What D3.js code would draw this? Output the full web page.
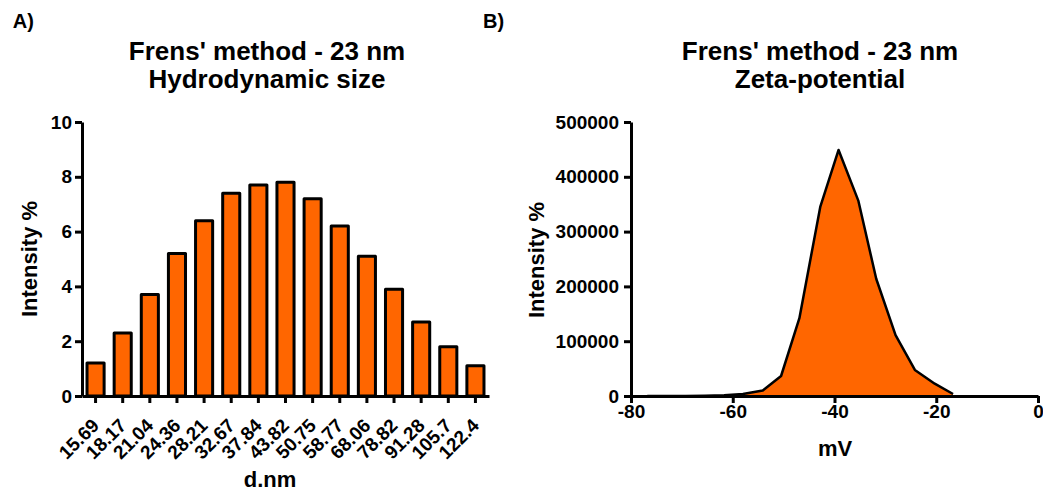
<!DOCTYPE html>
<html><head><meta charset="utf-8">
<script src="https://cdn.jsdelivr.net/npm/d3@7"></script>
<style>
html,body{margin:0;padding:0;background:#fff;}
text{font-family:"Liberation Sans",Arial,sans-serif;font-weight:bold;fill:#000;}
</style></head>
<body>
<svg id="c" width="1043" height="491"></svg>
<script>
// ---- Data ----
const sizeCategories = ["15.69","18.17","21.04","24.36","28.21","32.67","37.84","43.82","50.75","58.77","68.06","78.82","91.28","105.7","122.4"];
const sizeIntensity = [1.2,2.3,3.7,5.2,6.4,7.4,7.7,7.8,7.2,6.2,5.1,3.9,2.7,1.8,1.1];
const sizeYTicks = [0,2,4,6,8,10];

const zetaMV = [-76.8,-73.0,-69.3,-65.5,-61.7,-58.0,-54.1,-50.5,-46.9,-42.8,-39.2,-35.3,-31.8,-28.0,-24.2,-20.3,-16.7];
const zetaIntensity = [0,0,100,400,1200,3500,10000,36500,142000,345000,449000,356000,214000,111000,47500,22500,3700];
const zetaXTicks = [-80,-60,-40,-20,0];
const zetaYTicks = [0,100000,200000,300000,400000,500000];

const orange = "#ff6600";
const svg = d3.select("#c");

// ---- Panel A ----
const yA = d3.scaleLinear().domain([0,10]).range([396,122]);
const xA = d3.scaleBand().domain(sizeCategories).range([82,489]).paddingInner(0.37).paddingOuter(0.185);

const gA = svg.append("g");
gA.selectAll("rect.bar").data(sizeIntensity).join("rect")
  .attr("class","bar")
  .attr("x",(d,i)=>xA(sizeCategories[i]))
  .attr("width",xA.bandwidth())
  .attr("y",d=>yA(d))
  .attr("height",d=>yA(0)-yA(d))
  .attr("fill",orange).attr("stroke","#000").attr("stroke-width",3).attr("stroke-linejoin","round");

const axYA = gA.append("g").attr("transform","translate(82,0)")
  .call(d3.axisLeft(yA).tickValues(sizeYTicks).tickSize(7).tickSizeOuter(0).tickPadding(3));
const axXA = gA.append("g").attr("transform","translate(0,396)")
  .call(d3.axisBottom(xA).tickSize(7).tickSizeOuter(0));
axXA.selectAll("text")
  .attr("text-anchor","end")
  .attr("y",0).attr("dy","0.35em")
  .attr("transform",d=>`translate(0,26) rotate(-45)`);

gA.append("text").attr("x",12.7).attr("y",28.3).attr("font-size",20).text("A)");
gA.append("text").attr("x",267).attr("y",60).attr("text-anchor","middle").attr("font-size",26).text("Frens' method - 23 nm");
gA.append("text").attr("x",267).attr("y",88).attr("text-anchor","middle").attr("font-size",26).text("Hydrodynamic size");
gA.append("text").attr("x",270).attr("y",487).attr("text-anchor","middle").attr("font-size",22).text("d.nm");
gA.append("text").attr("transform","translate(36.7,259) rotate(-90)").attr("text-anchor","middle").attr("font-size",22).text("Intensity %");

// ---- Panel B ----
const xB = d3.scaleLinear().domain([-80,0]).range([631,1038]);
const yB = d3.scaleLinear().domain([0,500000]).range([396,122]);
const gB = svg.append("g");
const pts = zetaMV.map((m,i)=>[m,zetaIntensity[i]]);
gB.append("path").datum(pts)
  .attr("d",d3.area().x(d=>xB(d[0])).y0(yB(0)).y1(d=>yB(d[1])))
  .attr("fill",orange);
gB.append("path").datum(pts)
  .attr("d",d3.line().x(d=>xB(d[0])).y(d=>yB(d[1])))
  .attr("fill","none").attr("stroke","#000").attr("stroke-width",2.5).attr("stroke-linejoin","round");

gB.append("g").attr("transform","translate(631,0)")
  .call(d3.axisLeft(yB).tickValues(zetaYTicks).tickFormat(d3.format("d")).tickSize(7).tickSizeOuter(0).tickPadding(5));
gB.append("g").attr("transform","translate(0,396)")
  .call(d3.axisBottom(xB).tickValues(zetaXTicks).tickSize(7).tickSizeOuter(0).tickPadding(2).tickFormat(d=>String(d)));

gB.append("text").attr("x",483).attr("y",28.3).attr("font-size",20).text("B)");
gB.append("text").attr("x",820).attr("y",60).attr("text-anchor","middle").attr("font-size",26).text("Frens' method - 23 nm");
gB.append("text").attr("x",820).attr("y",88).attr("text-anchor","middle").attr("font-size",26).text("Zeta-potential");
gB.append("text").attr("x",835).attr("y",456).attr("text-anchor","middle").attr("font-size",22).text("mV");
gB.append("text").attr("transform","translate(544,260) rotate(-90)").attr("text-anchor","middle").attr("font-size",22).text("Intensity %");

// axis styling
svg.selectAll(".domain").attr("stroke","#000").attr("stroke-width",3);
svg.selectAll(".tick line").attr("stroke","#000").attr("stroke-width",3);
svg.selectAll(".tick text").attr("font-size",19).attr("font-family","'Liberation Sans',Arial,sans-serif").attr("font-weight","bold").attr("fill","#000");
</script>
</body></html>
